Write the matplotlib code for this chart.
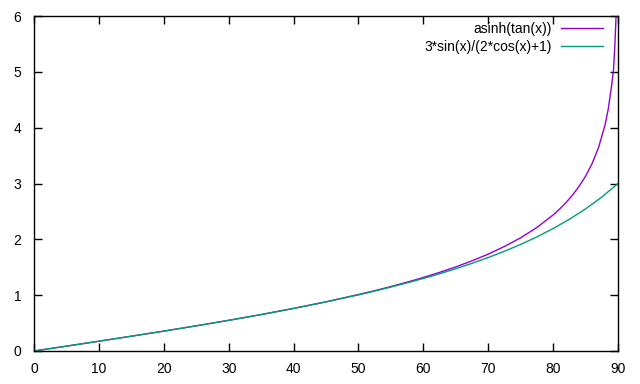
import matplotlib
matplotlib.use("Agg")
import matplotlib.pyplot as plt

plt.rcParams["font.family"] = "Liberation Sans"
plt.rcParams["font.size"] = 10

# values (x in degrees)
x1 = [0, 5, 10, 15, 20, 25, 30, 35, 40, 45, 50, 52.5, 55, 57.5, 60, 62.5, 65,
      67.5, 70, 72.5, 75, 77.5, 80, 81, 82, 83, 84, 85, 86, 87, 88, 88.5, 89,
      89.3, 89.5, 89.75]
asinh_tan = [0.0, 0.087, 0.175, 0.265, 0.356, 0.451, 0.549, 0.653, 0.763, 0.881,
             1.011, 1.080, 1.154, 1.233, 1.317, 1.408, 1.506, 1.615, 1.735,
             1.872, 2.028, 2.212, 2.436, 2.542, 2.660, 2.794, 2.949, 3.131,
             3.355, 3.643, 4.048, 4.336, 4.741, 5.028, 5.435, 6.128]

x2 = [0, 5, 10, 15, 20, 25, 30, 35, 40, 45, 50, 52.5, 55, 57.5, 60, 62.5, 65,
      67.5, 70, 72.5, 75, 77.5, 80, 82.5, 85, 87.5, 90]
ratio = [0.0, 0.087, 0.175, 0.265, 0.356, 0.451, 0.549, 0.652, 0.762, 0.879,
         1.005, 1.073, 1.145, 1.220, 1.299, 1.383, 1.473, 1.570, 1.674, 1.787,
         1.909, 2.044, 2.193, 2.359, 2.545, 2.757, 3.0]

fig = plt.figure(figsize=(6.4, 3.84), dpi=100)
ax = fig.add_axes([34 / 640, 1 - 351 / 384, 584 / 640, 335 / 384])

ax.plot(x1, asinh_tan, color="#9400d3", lw=1, label="asinh(tan(x))")
ax.plot(x2, ratio, color="#009e73", lw=1, label="3*sin(x)/(2*cos(x)+1)")

ax.set_xlim(0, 90)
ax.set_ylim(0, 6)
ax.set_xticks(range(0, 91, 10))
ax.set_yticks(range(0, 7))
ax.tick_params(direction="in", length=6, width=1, top=True, right=True,
               labelsize=10, pad=8)
ax.tick_params(axis="y", pad=9)
for s in ax.spines.values():
    s.set_linewidth(1)

leg = ax.legend(loc="upper right", bbox_to_anchor=(603 / 584 - 34 / 584, 1 - 6 / 335),
                frameon=False, markerfirst=False, handlelength=3.0,
                handletextpad=0.7, labelspacing=0.3, borderaxespad=0,
                borderpad=0, fontsize=10)

fig.savefig("out.png", dpi=100)
